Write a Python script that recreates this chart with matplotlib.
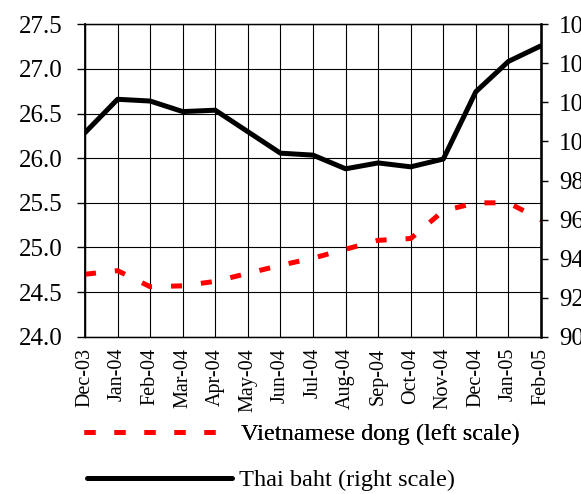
import matplotlib
matplotlib.use("Agg")
import matplotlib.pyplot as plt
from matplotlib.lines import Line2D

# dati
months = ["Dec-03", "Jan-04", "Feb-04", "Mar-04", "Apr-04", "May-04", "Jun-04",
          "Jul-04", "Aug-04", "Sep-04", "Oct-04", "Nov-04", "Dec-04", "Jan-05", "Feb-05"]
dong = [24.70, 24.74, 24.56, 24.57, 24.62, 24.71, 24.80,
        24.88, 24.98, 25.08, 25.10, 25.41, 25.50, 25.50, 25.31]
baht = [100.45, 102.16, 102.07, 101.53, 101.60, 100.50, 99.40,
        99.30, 98.60, 98.90, 98.70, 99.10, 102.55, 104.10, 104.90]
left_ticks = [24.0, 24.5, 25.0, 25.5, 26.0, 26.5, 27.0, 27.5]
right_ticks = [90, 92, 94, 96, 98, 100, 102, 104, 106]

plt.rcParams['font.family'] = ['Liberation Serif', 'DejaVu Serif']

fig = plt.figure(figsize=(5.81, 4.94), dpi=100)
ax = fig.add_axes([0.1463, 0.3184, 0.7849, 0.6324])
ax2 = ax.twinx()

x = list(range(len(months)))

# linea rossa tratteggiata (scala sinistra)
ax.plot(x, dong, color='red', lw=3.6, linestyle=(0, (2.2, 3.8)), dash_capstyle='butt',
        zorder=3)
# linea nera (scala destra)
ax2.plot(x, baht, color='black', lw=3.6, solid_capstyle='round', zorder=3)

ax.set_xlim(0, len(months) - 1)
ax.set_ylim(24.0, 27.5)
ax2.set_ylim(90, 106)

ax.set_yticks(left_ticks)
ax.set_yticklabels([f"{v:.1f}" for v in left_ticks], fontsize=18)
ax2.set_yticks(right_ticks)
ax2.set_yticklabels([str(v) for v in right_ticks], fontsize=18)
ax.set_xticks(x)
ax.set_xticklabels(months, rotation=90, fontsize=14.5)

ax.tick_params(axis='y', direction='out', length=6, width=1, pad=10)
ax2.tick_params(axis='y', direction='out', length=5, width=1, pad=8)
ax.tick_params(axis='x', length=0, pad=8)

ax.grid(True, color='black', lw=0.8)
ax.set_axisbelow(True)
for s in ax.spines.values():
    s.set_linewidth(1)
ax2.spines['right'].set_linewidth(1.8)
ax2.spines['left'].set_linewidth(1.3)

# legenda sotto il grafico
h_dong = Line2D([], [], color='red', lw=3.6, linestyle=(0, (2.2, 3.8)), dash_capstyle='butt')
h_baht = Line2D([], [], color='black', lw=3.6, solid_capstyle='round')
leg1 = fig.legend([h_dong], ["Vietnamese dong (left scale)"], loc='center left',
                  bbox_to_anchor=(0.145, 0.121), frameon=False, fontsize=17.6,
                  handlelength=5.43, handletextpad=0.99, borderpad=0, borderaxespad=0)
leg2 = fig.legend([h_baht], ["Thai baht (right scale)"], loc='center left',
                  bbox_to_anchor=(0.149, 0.028), frameon=False, fontsize=17.6,
                  handlelength=5.95, handletextpad=0.3, borderpad=0, borderaxespad=0)
fig.add_artist(leg1)

fig.savefig("out.png", dpi=100)
